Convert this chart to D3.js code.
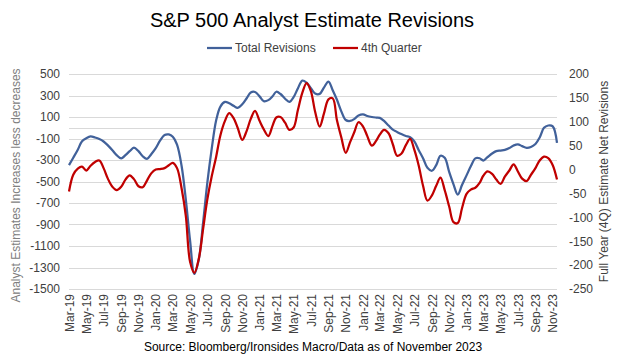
<!DOCTYPE html>
<html>
<head>
<meta charset="utf-8">
<script src="https://cdn.jsdelivr.net/npm/d3@7"></script>
<style>
  body { margin: 0; background: #fff; }
  text { font-family: "Liberation Sans", Arial, sans-serif; }
</style>
</head>
<body>
<div id="chart"></div>
<script>
// half-monthly readings, Mar-19 .. Nov-23 (1st and 16th of each month)
var totalRevisions = [
  -348, -279, -204, -125, -97, -81, -91, -105, -128, -164,
  -209, -255, -286, -255, -218, -186, -218, -265, -290, -246,
  -190, -120, -67, -62, -83, -158, -353, -669, -1051, -1360,
  -1220, -880, -509, -202, 70, 197, 240, 227, 204, 184,
  218, 272, 328, 333, 292, 247, 257, 293, 335, 314,
  270, 240, 284, 365, 439, 419, 368, 319, 315, 373,
  430, 349, 260, 155, 72, 63, 81, 114, 124, 109,
  100, 95, 92, 63, 21, -18, -39, -59, -77, -88,
  -127, -206, -286, -373, -400, -348, -260, -280, -413, -526,
  -621, -533, -443, -359, -285, -284, -305, -273, -240, -218,
  -212, -206, -189, -165, -154, -171, -187, -179, -151, -90,
  -1, 21, 13, -140
];
var fourthQuarter = [
  -46, -11, 2, 6, -2, 8, 16, 19, 3, -19,
  -36, -43, -36, -21, -12, -20, -35, -37, -23, -8,
  0, 1, 3, 9, 14, 3, -39, -97, -193, -216,
  -186, -124, -62, -15, 27, 72, 102, 118, 108, 87,
  62, 80, 106, 123, 102, 84, 70, 92, 109, 110,
  98, 83, 88, 124, 161, 181, 164, 121, 90, 117,
  147, 149, 103, 68, 35, 57, 78, 99, 90, 70,
  50, 60, 73, 83, 76, 53, 29, 33, 51, 64,
  41, 9, -35, -65, -54, -34, -17, -43, -78, -110,
  -112, -81, -51, -42, -38, -28, -13, -4, -9, -21,
  -30, -15, -2, 11, -4, -19, -24, -11, 3, 19,
  27, 24, 9, -21
];
var leftTicks = [500, 300, 100, -100, -300, -500, -700, -900, -1100, -1300, -1500];
var rightTicks = [200, 150, 100, 50, 0, -50, -100, -150, -200, -250];
var seriesNames = ["Total Revisions", "4th Quarter"];
var seriesColors = ["#41619a", "#c00000"];

var dates = [];
d3.timeMonth.range(new Date(2019, 2, 1), new Date(2023, 11, 1)).forEach(function(m) {
  dates.push(m);
  dates.push(new Date(m.getFullYear(), m.getMonth(), 16));
});

var width = 624, height = 361;
var plot = {left: 69, right: 557, top: 74, bottom: 289};

var svg = d3.select("#chart").append("svg")
    .attr("width", width)
    .attr("height", height);

var x = d3.scaleTime()
    .domain([dates[0], dates[dates.length - 1]])
    .range([plot.left, plot.right]);
var yL = d3.scaleLinear().domain([-1500, 500]).range([plot.bottom, plot.top]);
var yR = d3.scaleLinear().domain([-250, 200]).range([plot.bottom, plot.top]);

// plain hyphen, no thousands separator
var plain = function(d) { return String(d); };

// gridlines
svg.append("g")
    .selectAll("line")
    .data(leftTicks)
    .enter().append("line")
    .attr("x1", plot.left)
    .attr("x2", plot.right)
    .attr("y1", function(d) { return Math.round(yL(d)) + 0.5; })
    .attr("y2", function(d) { return Math.round(yL(d)) + 0.5; })
    .style("stroke", "#d9d9d9")
    .style("stroke-width", 1);

// horizontal axis line at zero
svg.append("line")
    .attr("x1", plot.left)
    .attr("x2", plot.right)
    .attr("y1", Math.round(yL(0)) + 0.5)
    .attr("y2", Math.round(yL(0)) + 0.5)
    .style("stroke", "#d9d9d9");

// left axis
var leftAxis = svg.append("g")
    .attr("transform", "translate(" + plot.left + ",0)")
    .call(d3.axisLeft(yL).tickValues(leftTicks).tickFormat(plain).tickSize(0).tickPadding(9));
leftAxis.select(".domain").remove();
leftAxis.selectAll("text")
    .style("font-size", "12px")
    .style("fill", "#404040")
    .style("font-family", "Liberation Sans, Arial, sans-serif");

// right axis
var rightAxis = svg.append("g")
    .attr("transform", "translate(" + plot.right + ",0)")
    .call(d3.axisRight(yR).tickValues(rightTicks).tickFormat(plain).tickSize(0).tickPadding(12));
rightAxis.select(".domain").remove();
rightAxis.selectAll("text")
    .style("font-size", "12px")
    .style("fill", "#404040")
    .style("font-family", "Liberation Sans, Arial, sans-serif");

// x axis labels
var xAxis = svg.append("g")
    .attr("transform", "translate(0," + (plot.bottom + 3) + ")")
    .call(d3.axisBottom(x)
      .ticks(d3.timeMonth.every(2))
      .tickFormat(d3.timeFormat("%b-%y"))
      .tickSize(0));
xAxis.select(".domain").remove();
xAxis.selectAll("text")
    .attr("transform", "rotate(-90)")
    .attr("x", -2)
    .attr("y", 0)
    .attr("dy", "0.35em")
    .attr("text-anchor", "end")
    .style("font-size", "12px")
    .style("fill", "#404040")
    .style("font-family", "Liberation Sans, Arial, sans-serif");

// lines
var lineL = d3.line()
    .x(function(d, i) { return x(dates[i]); })
    .y(function(d) { return yL(d); })
    .curve(d3.curveCatmullRom.alpha(0.5));
var lineR = d3.line()
    .x(function(d, i) { return x(dates[i]); })
    .y(function(d) { return yR(d); })
    .curve(d3.curveCatmullRom.alpha(0.5));

svg.append("path")
    .datum(totalRevisions)
    .attr("d", lineL)
    .style("fill", "none")
    .style("stroke", seriesColors[0])
    .style("stroke-width", 2.25);

svg.append("path")
    .datum(fourthQuarter)
    .attr("d", lineR)
    .style("fill", "none")
    .style("stroke", seriesColors[1])
    .style("stroke-width", 2.25);

// title
svg.append("text")
    .attr("x", 312)
    .attr("y", 27)
    .attr("text-anchor", "middle")
    .style("font-size", "20px")
    .style("fill", "#000")
    .text("S&P 500 Analyst Estimate Revisions");

// legend
var legendX = [207, 333];
seriesNames.forEach(function(name, i) {
  svg.append("line")
      .attr("x1", legendX[i])
      .attr("x2", legendX[i] + 25)
      .attr("y1", 48)
      .attr("y2", 48)
      .style("stroke", seriesColors[i])
      .style("stroke-width", 2.25);
  svg.append("text")
      .attr("x", legendX[i] + 28)
      .attr("y", 52)
      .style("font-size", "12px")
      .style("fill", "#404040")
      .text(name);
});

// axis titles
svg.append("text")
    .attr("transform", "translate(20," + ((plot.top + plot.bottom) / 2 + 4) + ") rotate(-90)")
    .attr("text-anchor", "middle")
    .style("font-size", "12px")
    .style("fill", "#808080")
    .text("Analyst Estimates Increases less decreases");

svg.append("text")
    .attr("transform", "translate(608," + ((plot.top + plot.bottom) / 2) + ") rotate(-90)")
    .attr("text-anchor", "middle")
    .style("font-size", "12px")
    .style("fill", "#404040")
    .text("Full Year (4Q) Estimate Net Revisions");

// source
svg.append("text")
    .attr("x", 313)
    .attr("y", 351)
    .attr("text-anchor", "middle")
    .style("font-size", "12px")
    .style("fill", "#000")
    .text("Source: Bloomberg/Ironsides Macro/Data as of November 2023");
</script>
</body>
</html>
